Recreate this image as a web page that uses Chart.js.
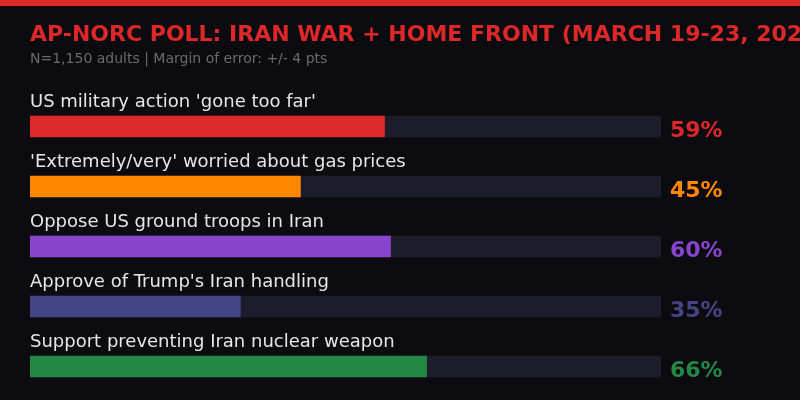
<!DOCTYPE html>
<html>
<head>
<meta charset="utf-8">
<script src="https://cdn.jsdelivr.net/npm/chart.js@4"></script>
<style>
  body { margin: 0; background: #0b0b10; }
  #wrap { width: 800px; height: 400px; }
</style>
</head>
<body>
<div id="wrap"><canvas id="chartCanvas" width="800" height="400"></canvas></div>
<script>
const titulo = "AP-NORC POLL: IRAN WAR + HOME FRONT (MARCH 19-23, 2026)";
const subtitulo = "N=1,150 adults | Margin of error: +/- 4 pts";
const categorias = [
    "US military action 'gone too far'",
    "'Extremely/very' worried about gas prices",
    "Oppose US ground troops in Iran",
    "Approve of Trump's Iran handling",
    "Support preventing Iran nuclear weapon"
];
const valores = [59, 45, 60, 35, 66];
const colores = ["#dc2828", "#ff8800", "#8844cc", "#454585", "#228844"];
const maximo = 105;
const fondo = categorias.map(() => maximo);

const decoracion = {
    id: 'decoracion',
    beforeDraw(chart) {
        const ctx = chart.ctx;
        ctx.save();
        ctx.fillStyle = '#0b0b10';
        ctx.fillRect(0, 0, chart.width, chart.height);
        ctx.fillStyle = '#dc2828';
        ctx.fillRect(0, 0, chart.width, 6);
        ctx.textAlign = 'left';
        ctx.textBaseline = 'alphabetic';
        ctx.fillStyle = '#dc2828';
        ctx.font = 'bold 22px "DejaVu Sans"';
        ctx.fillText(titulo, 30, 41);
        ctx.fillStyle = '#6b6b6b';
        ctx.font = '14px "DejaVu Sans"';
        ctx.fillText(subtitulo, 30, 63);
        ctx.restore();
    },
    afterDatasetsDraw(chart) {
        const ctx = chart.ctx;
        const meta = chart.getDatasetMeta(1);
        ctx.save();
        ctx.textAlign = 'left';
        ctx.textBaseline = 'alphabetic';
        meta.data.forEach((bar, i) => {
            const arriba = bar.y - bar.height / 2;
            const abajo = bar.y + bar.height / 2;
            ctx.fillStyle = '#e6e6e6';
            ctx.font = '18px "DejaVu Sans"';
            ctx.fillText(categorias[i], 30, arriba - 9);
            ctx.fillStyle = colores[i];
            ctx.font = 'bold 22px "DejaVu Sans"';
            ctx.fillText(valores[i] + '%', 670, abajo);
        });
        ctx.restore();
    }
};

const ctx = document.getElementById('chartCanvas').getContext('2d');
const chart = new Chart(ctx, {
    type: 'bar',
    data: {
        labels: categorias,
        datasets: [
            {
                data: fondo,
                backgroundColor: '#1c1c2b',
                barThickness: 21,
                grouped: false,
                order: 2
            },
            {
                data: valores,
                backgroundColor: colores,
                barThickness: 21,
                grouped: false,
                order: 1
            }
        ]
    },
    options: {
        indexAxis: 'y',
        responsive: false,
        animation: false,
        devicePixelRatio: 1,
        layout: { padding: { left: 30, right: 139, top: 96.5, bottom: 3.5 } },
        scales: {
            x: { display: false, min: 0, max: maximo },
            y: { display: false }
        },
        plugins: {
            legend: { display: false },
            tooltip: { enabled: false }
        }
    },
    plugins: [decoracion]
});
</script>
</body>
</html>
